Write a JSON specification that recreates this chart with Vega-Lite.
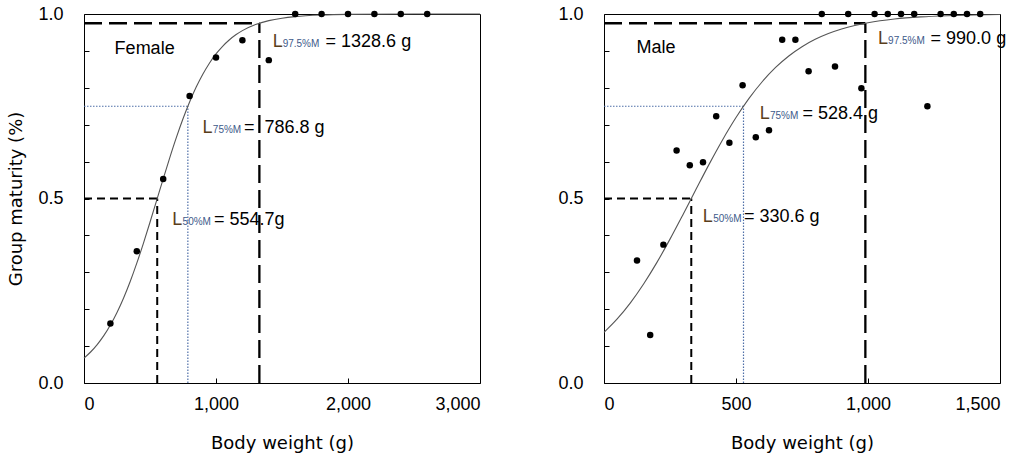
{
  "$schema": "https://vega.github.io/schema/vega-lite/v6.json",
  "background": "white",
  "padding": {"left": 7, "top": 4, "right": 5, "bottom": 5},
  "spacing": 124,
  "bounds": "flush",
  "config": {
    "view": {"stroke": "black", "strokeWidth": 1},
    "axis": {
      "grid": false,
      "domain": false,
      "offset": -5,
      "labelFont": "Liberation Sans",
      "labelFontSize": 18,
      "labelColor": "black",
      "titleFont": "DejaVu Sans",
      "titleFontSize": 18,
      "titleFontWeight": "normal",
      "titleColor": "black",
      "tickColor": "black",
      "tickSize": 5,
      "tickWidth": 1
    },
    "axisX": {"labelPadding": 12, "titlePadding": 21},
    "axisY": {"labelPadding": 21, "titlePadding": 12}
  },
  "datasets": {
    "pts": [
      {"panel": "F", "w": 200, "p": 0.161},
      {"panel": "F", "w": 400, "p": 0.357},
      {"panel": "F", "w": 600, "p": 0.553},
      {"panel": "F", "w": 800, "p": 0.778},
      {"panel": "F", "w": 1000, "p": 0.882},
      {"panel": "F", "w": 1200, "p": 0.929},
      {"panel": "F", "w": 1400, "p": 0.875},
      {"panel": "F", "w": 1600, "p": 1.0},
      {"panel": "F", "w": 1800, "p": 1.0},
      {"panel": "F", "w": 2000, "p": 1.0},
      {"panel": "F", "w": 2200, "p": 1.0},
      {"panel": "F", "w": 2400, "p": 1.0},
      {"panel": "F", "w": 2600, "p": 1.0},
      {"panel": "M", "w": 125, "p": 0.332},
      {"panel": "M", "w": 175, "p": 0.130},
      {"panel": "M", "w": 225, "p": 0.375},
      {"panel": "M", "w": 275, "p": 0.630},
      {"panel": "M", "w": 325, "p": 0.590},
      {"panel": "M", "w": 375, "p": 0.598},
      {"panel": "M", "w": 425, "p": 0.723},
      {"panel": "M", "w": 475, "p": 0.651},
      {"panel": "M", "w": 525, "p": 0.807},
      {"panel": "M", "w": 575, "p": 0.666},
      {"panel": "M", "w": 625, "p": 0.685},
      {"panel": "M", "w": 675, "p": 0.930},
      {"panel": "M", "w": 725, "p": 0.930},
      {"panel": "M", "w": 775, "p": 0.845},
      {"panel": "M", "w": 825, "p": 1.0},
      {"panel": "M", "w": 875, "p": 0.858},
      {"panel": "M", "w": 925, "p": 1.0},
      {"panel": "M", "w": 975, "p": 0.799},
      {"panel": "M", "w": 1025, "p": 1.0},
      {"panel": "M", "w": 1075, "p": 1.0},
      {"panel": "M", "w": 1125, "p": 1.0},
      {"panel": "M", "w": 1175, "p": 1.0},
      {"panel": "M", "w": 1225, "p": 0.750},
      {"panel": "M", "w": 1275, "p": 1.0},
      {"panel": "M", "w": 1325, "p": 1.0},
      {"panel": "M", "w": 1375, "p": 1.0},
      {"panel": "M", "w": 1425, "p": 1.0}
    ],
    "curve": [
      {"panel": "F", "w": 0, "p": 0.0675},
      {"panel": "F", "w": 50, "p": 0.0840},
      {"panel": "F", "w": 100, "p": 0.1041},
      {"panel": "F", "w": 150, "p": 0.1283},
      {"panel": "F", "w": 200, "p": 0.1572},
      {"panel": "F", "w": 250, "p": 0.1912},
      {"panel": "F", "w": 300, "p": 0.2305},
      {"panel": "F", "w": 350, "p": 0.2751},
      {"panel": "F", "w": 400, "p": 0.3247},
      {"panel": "F", "w": 450, "p": 0.3786},
      {"panel": "F", "w": 500, "p": 0.4356},
      {"panel": "F", "w": 550, "p": 0.4944},
      {"panel": "F", "w": 600, "p": 0.5534},
      {"panel": "F", "w": 650, "p": 0.6109},
      {"panel": "F", "w": 700, "p": 0.6655},
      {"panel": "F", "w": 750, "p": 0.7160},
      {"panel": "F", "w": 800, "p": 0.7616},
      {"panel": "F", "w": 850, "p": 0.8019},
      {"panel": "F", "w": 900, "p": 0.8368},
      {"panel": "F", "w": 950, "p": 0.8667},
      {"panel": "F", "w": 1000, "p": 0.8917},
      {"panel": "F", "w": 1050, "p": 0.9125},
      {"panel": "F", "w": 1100, "p": 0.9296},
      {"panel": "F", "w": 1150, "p": 0.9436},
      {"panel": "F", "w": 1200, "p": 0.9550},
      {"panel": "F", "w": 1300, "p": 0.9715},
      {"panel": "F", "w": 1400, "p": 0.9820},
      {"panel": "F", "w": 1500, "p": 0.9887},
      {"panel": "F", "w": 1600, "p": 0.9930},
      {"panel": "F", "w": 1800, "p": 0.9973},
      {"panel": "F", "w": 2000, "p": 0.9989},
      {"panel": "F", "w": 2500, "p": 0.9999},
      {"panel": "F", "w": 3000, "p": 1.0},
      {"panel": "M", "w": 0, "p": 0.1374},
      {"panel": "M", "w": 50, "p": 0.1738},
      {"panel": "M", "w": 100, "p": 0.2173},
      {"panel": "M", "w": 150, "p": 0.2683},
      {"panel": "M", "w": 200, "p": 0.3262},
      {"panel": "M", "w": 250, "p": 0.3899},
      {"panel": "M", "w": 300, "p": 0.4576},
      {"panel": "M", "w": 350, "p": 0.5269},
      {"panel": "M", "w": 400, "p": 0.5952},
      {"panel": "M", "w": 450, "p": 0.6600},
      {"panel": "M", "w": 500, "p": 0.7193},
      {"panel": "M", "w": 550, "p": 0.7719},
      {"panel": "M", "w": 600, "p": 0.8171},
      {"panel": "M", "w": 650, "p": 0.8551},
      {"panel": "M", "w": 700, "p": 0.8862},
      {"panel": "M", "w": 750, "p": 0.9114},
      {"panel": "M", "w": 800, "p": 0.9314},
      {"panel": "M", "w": 850, "p": 0.9471},
      {"panel": "M", "w": 900, "p": 0.9595},
      {"panel": "M", "w": 950, "p": 0.9690},
      {"panel": "M", "w": 1000, "p": 0.9763},
      {"panel": "M", "w": 1100, "p": 0.9863},
      {"panel": "M", "w": 1200, "p": 0.9921},
      {"panel": "M", "w": 1300, "p": 0.9954},
      {"panel": "M", "w": 1400, "p": 0.9974},
      {"panel": "M", "w": 1500, "p": 0.9985}
    ],
    "refs": [
      {"panel": "F", "k": "s", "w": 0, "w2": 554.7, "p": 0.5, "p2": 0.5},
      {"panel": "F", "k": "s", "w": 554.7, "w2": 554.7, "p": 0, "p2": 0.5},
      {"panel": "F", "k": "d", "w": 0, "w2": 786.8, "p": 0.75, "p2": 0.75},
      {"panel": "F", "k": "d", "w": 786.8, "w2": 786.8, "p": 0, "p2": 0.75},
      {"panel": "F", "k": "l", "w": 0, "w2": 1328.6, "p": 0.975, "p2": 0.975},
      {"panel": "F", "k": "l", "w": 1328.6, "w2": 1328.6, "p": 0, "p2": 0.975},
      {"panel": "M", "k": "s", "w": 0, "w2": 330.6, "p": 0.5, "p2": 0.5},
      {"panel": "M", "k": "s", "w": 330.6, "w2": 330.6, "p": 0, "p2": 0.5},
      {"panel": "M", "k": "d", "w": 0, "w2": 528.4, "p": 0.75, "p2": 0.75},
      {"panel": "M", "k": "d", "w": 528.4, "w2": 528.4, "p": 0, "p2": 0.75},
      {"panel": "M", "k": "l", "w": 0, "w2": 990.0, "p": 0.975, "p2": 0.975},
      {"panel": "M", "k": "l", "w": 990.0, "w2": 990.0, "p": 0, "p2": 0.975}
    ],
    "labels": [
      {"panel": "F", "k": "title", "w": 232, "p": 0.892, "t": "Female"},
      {"panel": "F", "k": "L", "w": 1429, "p": 0.910, "t": "L"},
      {"panel": "F", "k": "sub", "w": 1505, "p": 0.910, "t": "97.5%M"},
      {"panel": "F", "k": "rest", "w": 1830, "p": 0.910, "t": "= 1328.6 g"},
      {"panel": "F", "k": "L", "w": 897, "p": 0.678, "t": "L"},
      {"panel": "F", "k": "sub", "w": 976, "p": 0.678, "t": "75%M"},
      {"panel": "F", "k": "rest", "w": 1212, "p": 0.678, "t": "= \u00a0786.8 g"},
      {"panel": "F", "k": "L", "w": 669, "p": 0.427, "t": "L"},
      {"panel": "F", "k": "sub", "w": 747, "p": 0.427, "t": "50%M"},
      {"panel": "F", "k": "rest", "w": 985, "p": 0.427, "t": "= 554.7g"},
      {"panel": "M", "k": "title", "w": 123, "p": 0.895, "t": "Male"},
      {"panel": "M", "k": "L", "w": 1037.5, "p": 0.920, "t": "L"},
      {"panel": "M", "k": "sub", "w": 1076, "p": 0.920, "t": "97.5%M"},
      {"panel": "M", "k": "rest", "w": 1237, "p": 0.920, "t": "= 990.0 g"},
      {"panel": "M", "k": "L", "w": 589.5, "p": 0.715, "t": "L"},
      {"panel": "M", "k": "sub", "w": 628.5, "p": 0.715, "t": "75%M"},
      {"panel": "M", "k": "rest", "w": 751.5, "p": 0.715, "t": "= 528.4 g"},
      {"panel": "M", "k": "L", "w": 374.5, "p": 0.436, "t": "L"},
      {"panel": "M", "k": "sub", "w": 413.5, "p": 0.436, "t": "50%M"},
      {"panel": "M", "k": "rest", "w": 530, "p": 0.436, "t": "= 330.6 g"}
    ]
  },
  "hconcat": [
    {
      "width": 396,
      "height": 369,
      "encoding": {
        "x": {"field": "w", "type": "quantitative", "scale": {"domain": [0, 3000], "nice": false},
              "axis": {"values": [0, 1000, 2000, 3000], "format": ",d", "title": "Body weight (g)"}},
        "y": {"field": "p", "type": "quantitative", "scale": {"domain": [0, 1], "nice": false},
              "axis": {"values": [0, 0.1, 0.2, 0.3, 0.4, 0.5, 0.6, 0.7, 0.8, 0.9, 1],
                       "labelExpr": "datum.value == 0 || datum.value == 0.5 || datum.value == 1 ? format(datum.value, '.1f') : ''",
                       "title": "Group maturity (%)"}}
      },
      "layer": [
        {"data": {"name": "refs"}, "transform": [{"filter": "datum.panel == 'F' && datum.k == 's'"}],
         "mark": {"type": "rule", "color": "black", "strokeWidth": 2, "strokeDash": [8, 5]},
         "encoding": {"x2": {"field": "w2"}, "y2": {"field": "p2"}}},
        {"data": {"name": "refs"}, "transform": [{"filter": "datum.panel == 'F' && datum.k == 'd'"}],
         "mark": {"type": "rule", "color": "#4f6fa8", "strokeWidth": 1.2, "strokeDash": [1.5, 1.5]},
         "encoding": {"x2": {"field": "w2"}, "y2": {"field": "p2"}}},
        {"data": {"name": "refs"}, "transform": [{"filter": "datum.panel == 'F' && datum.k == 'l'"}],
         "mark": {"type": "rule", "color": "black", "strokeWidth": 2.3, "strokeDash": [18, 7]},
         "encoding": {"x2": {"field": "w2"}, "y2": {"field": "p2"}}},
        {"data": {"name": "curve"}, "transform": [{"filter": "datum.panel == 'F'"}],
         "mark": {"type": "line", "color": "#555555", "strokeWidth": 1.1, "interpolate": "monotone"},
         "encoding": {}},
        {"data": {"name": "pts"}, "transform": [{"filter": "datum.panel == 'F'"}],
         "mark": {"type": "circle", "color": "black", "size": 42, "opacity": 1},
         "encoding": {}},
        {"data": {"name": "labels"}, "transform": [{"filter": "datum.panel == 'F' && (datum.k == 'title' || datum.k == 'rest')"}],
         "mark": {"type": "text", "align": "left", "baseline": "alphabetic", "font": "Liberation Sans", "fontSize": 18, "color": "black"},
         "encoding": {"text": {"field": "t"}}},
        {"data": {"name": "labels"}, "transform": [{"filter": "datum.panel == 'F' && datum.k == 'L'"}],
         "mark": {"type": "text", "align": "left", "baseline": "alphabetic", "font": "Liberation Sans", "fontSize": 18, "color": "#5a3e1b"},
         "encoding": {"text": {"field": "t"}}},
        {"data": {"name": "labels"}, "transform": [{"filter": "datum.panel == 'F' && datum.k == 'sub'"}],
         "mark": {"type": "text", "align": "left", "baseline": "alphabetic", "font": "Liberation Sans", "fontSize": 10, "color": "#3d5a8a"},
         "encoding": {"text": {"field": "t"}}}
      ]
    },
    {
      "width": 396,
      "height": 369,
      "encoding": {
        "x": {"field": "w", "type": "quantitative", "scale": {"domain": [0, 1500], "nice": false},
              "axis": {"values": [0, 500, 1000, 1500], "format": ",d", "title": "Body weight (g)"}},
        "y": {"field": "p", "type": "quantitative", "scale": {"domain": [0, 1], "nice": false},
              "axis": {"values": [0, 0.1, 0.2, 0.3, 0.4, 0.5, 0.6, 0.7, 0.8, 0.9, 1],
                       "labelExpr": "datum.value == 0 || datum.value == 0.5 || datum.value == 1 ? format(datum.value, '.1f') : ''",
                       "title": null}}
      },
      "layer": [
        {"data": {"name": "refs"}, "transform": [{"filter": "datum.panel == 'M' && datum.k == 's'"}],
         "mark": {"type": "rule", "color": "black", "strokeWidth": 2, "strokeDash": [8, 5]},
         "encoding": {"x2": {"field": "w2"}, "y2": {"field": "p2"}}},
        {"data": {"name": "refs"}, "transform": [{"filter": "datum.panel == 'M' && datum.k == 'd'"}],
         "mark": {"type": "rule", "color": "#4f6fa8", "strokeWidth": 1.2, "strokeDash": [1.5, 1.5]},
         "encoding": {"x2": {"field": "w2"}, "y2": {"field": "p2"}}},
        {"data": {"name": "refs"}, "transform": [{"filter": "datum.panel == 'M' && datum.k == 'l'"}],
         "mark": {"type": "rule", "color": "black", "strokeWidth": 2.3, "strokeDash": [18, 7]},
         "encoding": {"x2": {"field": "w2"}, "y2": {"field": "p2"}}},
        {"data": {"name": "curve"}, "transform": [{"filter": "datum.panel == 'M'"}],
         "mark": {"type": "line", "color": "#555555", "strokeWidth": 1.1, "interpolate": "monotone"},
         "encoding": {}},
        {"data": {"name": "pts"}, "transform": [{"filter": "datum.panel == 'M'"}],
         "mark": {"type": "circle", "color": "black", "size": 42, "opacity": 1},
         "encoding": {}},
        {"data": {"name": "labels"}, "transform": [{"filter": "datum.panel == 'M' && (datum.k == 'title' || datum.k == 'rest')"}],
         "mark": {"type": "text", "align": "left", "baseline": "alphabetic", "font": "Liberation Sans", "fontSize": 18, "color": "black"},
         "encoding": {"text": {"field": "t"}}},
        {"data": {"name": "labels"}, "transform": [{"filter": "datum.panel == 'M' && datum.k == 'L'"}],
         "mark": {"type": "text", "align": "left", "baseline": "alphabetic", "font": "Liberation Sans", "fontSize": 18, "color": "#5a3e1b"},
         "encoding": {"text": {"field": "t"}}},
        {"data": {"name": "labels"}, "transform": [{"filter": "datum.panel == 'M' && datum.k == 'sub'"}],
         "mark": {"type": "text", "align": "left", "baseline": "alphabetic", "font": "Liberation Sans", "fontSize": 10, "color": "#3d5a8a"},
         "encoding": {"text": {"field": "t"}}}
      ]
    }
  ]
}
